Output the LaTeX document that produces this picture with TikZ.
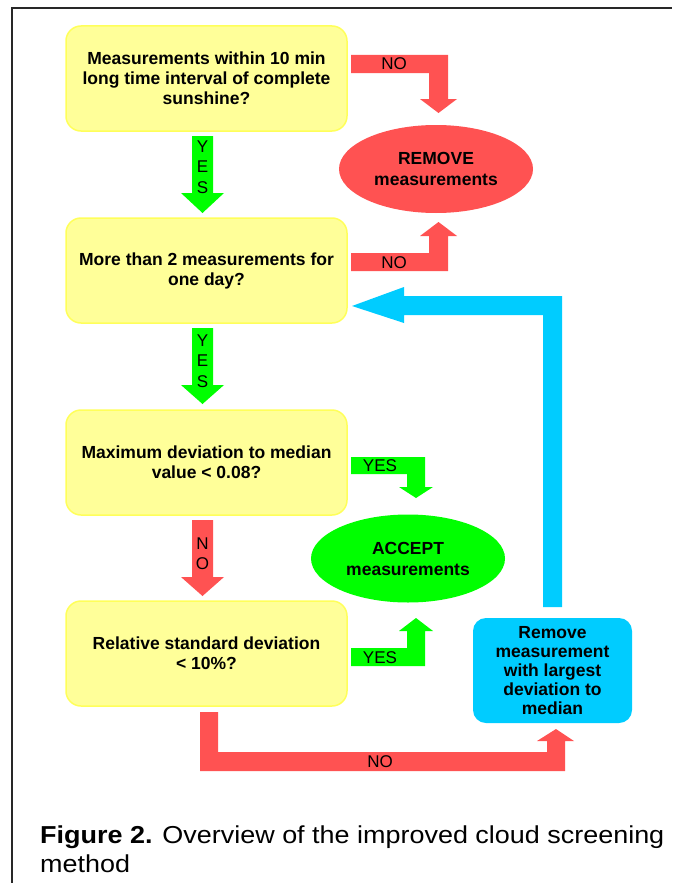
\documentclass[tikz,border=0pt]{standalone}
\usepackage{fontspec}
\setmainfont{Liberation Sans}
\newfontfamily\capfont[FakeStretch=1.1]{Liberation Sans}
\usetikzlibrary{shapes.geometric}
\definecolor{yfill}{RGB}{255,255,153}
\definecolor{ydraw}{RGB}{255,255,90}
\definecolor{redc}{RGB}{255,82,82}
\definecolor{greenc}{RGB}{0,255,0}
\definecolor{cyanc}{RGB}{0,204,255}
\definecolor{framec}{RGB}{40,40,40}
\tikzset{
  qbox/.style={draw=ydraw, fill=yfill, line width=1.5pt, rounded corners=15pt,
    minimum width=281pt, minimum height=105pt, align=center, inner sep=0pt,
    font=\fontsize{17.5}{20}\selectfont\bfseries},
  cbox/.style={fill=cyanc, rounded corners=13pt,
    minimum width=159pt, minimum height=105pt, align=center, inner sep=0pt,
    font=\fontsize{17.5}{19}\selectfont\bfseries},
  oval/.style={ellipse, minimum width=194pt, minimum height=88pt, inner sep=0pt,
    align=center, font=\fontsize{17.5}{21}\selectfont\bfseries},
  lbl/.style={font=\fontsize{17}{17}\selectfont, inner sep=0pt},
  vlbl/.style={font=\fontsize{17}{20.5}\selectfont, inner sep=0pt, align=center},
}
\begin{document}
\begin{tikzpicture}[x=1pt,y=-1pt]
\useasboundingbox (0,0) rectangle (672,883);
\fill[white] (0,0) rectangle (672,883);
% frame
\draw[framec, line width=2pt] (12,883) -- (12,8) -- (672,8);

% nodes
\node[qbox] (q1) at (206.5,78.5) {Measurements within 10 min\\long time interval of complete\\sunshine?};
\node[qbox] (q2) at (206.5,270.5) {More than 2 measurements for\\one day?};
\node[qbox] (q3) at (206.5,462.5) {Maximum deviation to median\\value < 0.08?};
\node[qbox] (q4) at (206.5,653.5) {Relative standard deviation\\< 10\%?};
\node[oval, fill=redc] (rem) at (436,169) {REMOVE\\measurements};
\node[oval, fill=greenc] (acc) at (408,558.5) {ACCEPT\\measurements};
\node[cbox] (rm) at (552.5,670.5) {Remove\\measurement\\with largest\\deviation to\\median};

% YES down arrows (green)
\fill[greenc] (192,136) -- (213,136) -- (213,193) -- (224,193) -- (202.5,213) -- (181,193) -- (192,193) -- cycle;
\node[vlbl] (y1) at (202.5,167) {Y\\E\\S};
\fill[greenc] (192,328) -- (213,328) -- (213,385) -- (224,385) -- (202.5,404) -- (181,385) -- (192,385) -- cycle;
\node[vlbl] (y2) at (202.5,361) {Y\\E\\S};
% NO down arrow (red)
\fill[redc] (192,520) -- (213,520) -- (213,577) -- (224,577) -- (202.5,596) -- (181,577) -- (192,577) -- cycle;
\node[vlbl] (n1) at (202.5,553.5) {N\\O};

% NO q1 -> remove
\fill[redc] (351,55) -- (448,55) -- (448,99) -- (457,99) -- (438.5,113) -- (420,99) -- (429,99) -- (429,73) -- (351,73) -- cycle;
\node[lbl] (n2) at (394,63.5) {NO};
% NO q2 -> remove
\fill[redc] (351,271) -- (448,271) -- (448,236) -- (457,236) -- (438.5,222) -- (420,236) -- (429,236) -- (429,253) -- (351,253) -- cycle;
\node[lbl] (n3) at (394,262.5) {NO};

% YES q3 -> accept
\fill[greenc] (351,457) -- (425,457) -- (425,487) -- (433,487) -- (416,498) -- (399,487) -- (407,487) -- (407,474) -- (351,474) -- cycle;
\node[lbl] (y3) at (380,465.5) {YES};
% YES q4 -> accept
\fill[greenc] (351,666) -- (425,666) -- (425,631) -- (433,631) -- (416,618) -- (399,631) -- (407,631) -- (407,648) -- (351,648) -- cycle;
\node[lbl] (y4) at (380,657.5) {YES};

% NO q4 -> remove measurement
\fill[redc] (200,712) -- (218,712) -- (218,752) -- (547,752) -- (547,741) -- (537,741) -- (556,729) -- (574,741) -- (565,741) -- (565,771) -- (200,771) -- cycle;
\node[lbl] (n4) at (380,761.5) {NO};

% cyan loop back to q2
\fill[cyanc] (543,607) -- (562,607) -- (562,296) -- (404,296) -- (404,287) -- (352,306) -- (404,323) -- (404,315) -- (543,315) -- cycle;

% caption
\node[anchor=base west, inner sep=0pt, align=left, font=\capfont\fontsize{24.5}{29}\selectfont] (cap) at (40,872)
  {\textbf{Figure 2.} Overview of the improved cloud screening\\method};
\end{tikzpicture}
\end{document}
